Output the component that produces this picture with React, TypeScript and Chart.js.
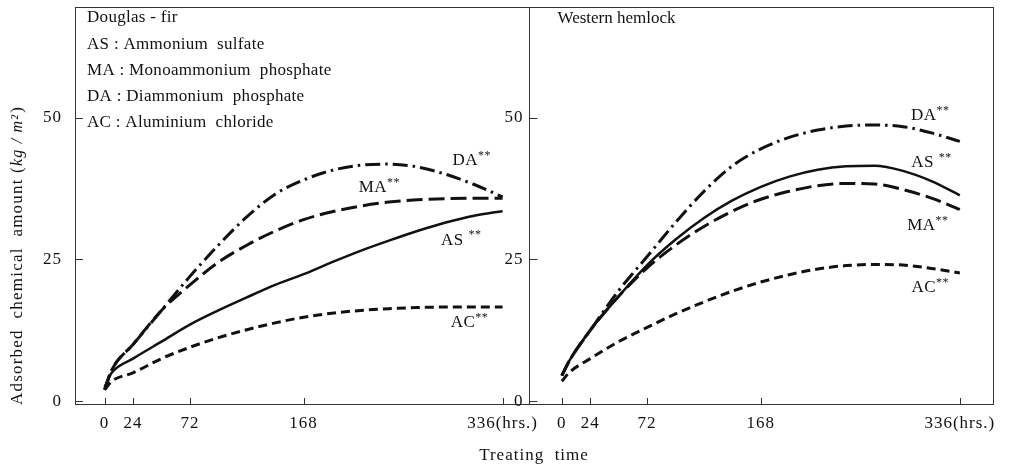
import React, { useEffect, useRef } from "react";
import { Chart, registerables } from "chart.js";

Chart.register(...registerables);

// ---------- data ----------
const HOURS = [0, 6, 24, 48, 72, 96, 120, 144, 168, 192, 216, 240, 264, 288, 312, 336];

// Douglas-fir (kg/m2)
const DF_AS = [2.5, 5, 7.5, 10.5, 13.5, 16, 18.3, 20.5, 22.4, 24.5, 26.5, 28.3, 30, 31.5, 32.7, 33.5];
const DF_MA = [2, 5.5, 10, 16, 20.5, 24.5, 27.5, 30, 32, 33.4, 34.4, 35.1, 35.5, 35.7, 35.8, 35.8];
const DF_DA = [2, 5.5, 10, 16, 22, 27.5, 32.5, 36.5, 39, 40.7, 41.6, 41.8, 41.3, 40, 38.2, 36];
const DF_AC = [2, 3.5, 5, 7.5, 9.5, 11.2, 12.6, 13.8, 14.8, 15.5, 16, 16.3, 16.5, 16.6, 16.6, 16.6];

// Western hemlock (kg/m2)
const WH_AS = [4.5, 7, 12.5, 18.5, 24, 28.5, 32.3, 35.4, 37.8, 39.6, 40.8, 41.4, 41.5, 40.6, 38.8, 36.3];
const WH_MA = [4.5, 7, 12.5, 18.5, 23.5, 27.5, 30.8, 33.5, 35.6, 37, 38, 38.4, 38.3, 37.3, 35.8, 33.8];
const WH_DA = [4.5, 7, 12.5, 19.5, 25.5, 31.5, 37, 41.5, 44.5, 46.5, 47.8, 48.5, 48.7, 48.4, 47.3, 45.8];
const WH_AC = [3.5, 5, 7.5, 10.5, 13, 15.4, 17.5, 19.4, 21, 22.3, 23.3, 23.9, 24.1, 24, 23.4, 22.6];

const SERIES_CODES = ["AS", "MA", "DA", "AC"];
const X_TICKS = [0, 24, 72, 168, 336];
const Y_TICKS = [0, 25, 50];
const PANEL_TITLES = ["Douglas - fir", "Western hemlock"];
const LEGEND_LINES = [
  "AS : Ammonium  sulfate",
  "MA : Monoammonium  phosphate",
  "DA : Diammonium  phosphate",
  "AC : Aluminium  chloride",
];
const X_TITLE = "Treating  time";
const Y_TITLE_MAIN = "Adsorbed  chemical  amount";
const Y_TITLE_UNIT = "kg / m²";
const LAST_TICK_LABEL = "336(hrs.)";

// curve label anchors [hours, value] (centre of label)
const DF_LABEL_AT = { AS: [301, 28.4], MA: [232, 37.7], DA: [310, 42.4], AC: [308, 13.8] };
const WH_LABEL_AT = { AS: [312, 42.1], MA: [309, 31], DA: [311, 50.3], AC: [311, 20] };

// ---------- layout constants ----------
const X_MIN = -25;
const X_MAX = 750;
const RIGHT_OFFSET = 386; // hours offset for the second panel
const DIVIDER = 358;
const Y_MIN = -0.5;
const Y_MAX = 69.5;

const FONT = "'Liberation Serif', 'DejaVu Serif', serif";

const DASHES: Record<string, number[]> = {
  AS: [],
  MA: [16, 6],
  DA: [15, 5, 2.5, 5],
  AC: [9, 5],
};

function pts(values: number[], offset: number) {
  return HOURS.map((h, i) => ({ x: h + offset, y: values[i] }));
}

export default function App() {
  const ref = useRef<HTMLCanvasElement | null>(null);

  useEffect(() => {
    const canvas = ref.current;
    if (!canvas) return;
    document.body.style.margin = "0";

    const dfVals: Record<string, number[]> = { AS: DF_AS, MA: DF_MA, DA: DF_DA, AC: DF_AC };
    const whVals: Record<string, number[]> = { AS: WH_AS, MA: WH_MA, DA: WH_DA, AC: WH_AC };

    const datasets: any[] = [];
    [
      { vals: dfVals, off: 0, name: "Douglas-fir" },
      { vals: whVals, off: RIGHT_OFFSET, name: "Western hemlock" },
    ].forEach((p) => {
      SERIES_CODES.forEach((code) => {
        datasets.push({
          label: p.name + " " + code,
          data: pts(p.vals[code], p.off),
          borderColor: "#111",
          borderWidth: code === "AS" ? 2.5 : 3,
          borderDash: DASHES[code],
          borderCapStyle: "butt",
          pointRadius: 0,
          fill: false,
          cubicInterpolationMode: "monotone",
        });
      });
    });

    const allTicks = [
      ...X_TICKS.map((v) => v),
      ...X_TICKS.map((v) => v + RIGHT_OFFSET),
    ];

    const decor = {
      id: "decor",
      beforeDraw(chart: any) {
        chart.ctx.letterSpacing = "1px";
      },
      afterDraw(chart: any) {
        const { ctx, chartArea } = chart;
        const xs = chart.scales.x;
        const ys = chart.scales.y;
        const { left, right, top, bottom } = chartArea;
        ctx.save();
        ctx.strokeStyle = "#333";
        ctx.lineWidth = 1;
        ctx.setLineDash([]);
        // frame
        ctx.strokeRect(Math.round(left) + 0.5, Math.round(top) + 0.5, Math.round(right - left), Math.round(bottom - top));
        const dx = Math.round(xs.getPixelForValue(DIVIDER)) + 0.5;
        ctx.beginPath();
        ctx.moveTo(dx, top);
        ctx.lineTo(dx, bottom);
        ctx.stroke();
        // x tick marks (inward)
        ctx.beginPath();
        allTicks.forEach((v) => {
          const px = Math.round(xs.getPixelForValue(v)) + 0.5;
          ctx.moveTo(px, bottom);
          ctx.lineTo(px, bottom - 6);
        });
        // y tick marks on both panels (inward)
        Y_TICKS.forEach((v) => {
          const py = Math.round(ys.getPixelForValue(v)) + 0.5;
          ctx.moveTo(left, py);
          ctx.lineTo(left + 8, py);
          ctx.moveTo(dx, py);
          ctx.lineTo(dx + 8, py);
        });
        ctx.stroke();

        ctx.fillStyle = "#111";
        // right panel y tick labels
        ctx.letterSpacing = "1px";
        ctx.font = `17px ${FONT}`;
        ctx.textAlign = "right";
        ctx.textBaseline = "middle";
        Y_TICKS.forEach((v) => {
          ctx.fillText(String(v), dx - 6, ys.getPixelForValue(v));
        });

        // panel titles & legend text
        ctx.textAlign = "left";
        ctx.letterSpacing = "0.3px";
        ctx.font = `17px ${FONT}`;
        ctx.fillText(PANEL_TITLES[0], left + 12, top + 11);
        LEGEND_LINES.forEach((t, i) => {
          ctx.fillText(t, left + 12, top + 38 + i * 26);
        });
        ctx.letterSpacing = "0px";
        ctx.fillText(PANEL_TITLES[1], dx + 28, top + 12);

        // y-axis title (rotated), with italic unit
        ctx.save();
        const ty0 = bottom + 1;
        ctx.translate(18, ty0);
        ctx.rotate(-Math.PI / 2);
        ctx.textAlign = "left";
        ctx.textBaseline = "middle";
        ctx.letterSpacing = "1.2px";
        ctx.font = `17px ${FONT}`;
        const part1 = Y_TITLE_MAIN + " (";
        ctx.fillText(part1, 0, 0);
        let w = ctx.measureText(part1).width;
        ctx.font = `italic 16px ${FONT}`;
        ctx.fillText(Y_TITLE_UNIT, w, 0);
        w += ctx.measureText(Y_TITLE_UNIT).width;
        ctx.font = `17px ${FONT}`;
        ctx.fillText(")", w + 1, 0);
        ctx.restore();

        // curve labels with superscript stars
        const drawLabel = (code: string, at: number[], off: number) => {
          const main = code === "AS" ? "AS " : code;
          ctx.letterSpacing = "0.5px";
          ctx.font = `17px ${FONT}`;
          const w1 = ctx.measureText(main).width;
          ctx.font = `12px ${FONT}`;
          const w2 = ctx.measureText("**").width;
          const cx = xs.getPixelForValue(at[0] + off);
          const cy = ys.getPixelForValue(at[1]);
          const x0 = cx - (w1 + w2) / 2;
          ctx.font = `17px ${FONT}`;
          ctx.textAlign = "left";
          ctx.textBaseline = "middle";
          ctx.fillText(main, x0, cy);
          ctx.font = `12px ${FONT}`;
          ctx.fillText("**", x0 + w1, cy - 5);
        };
        SERIES_CODES.forEach((c) => drawLabel(c, (DF_LABEL_AT as any)[c], 0));
        SERIES_CODES.forEach((c) => drawLabel(c, (WH_LABEL_AT as any)[c], RIGHT_OFFSET));
        ctx.restore();
      },
    };

    const chart = new Chart(canvas, {
      type: "line",
      data: { datasets },
      options: {
        responsive: false,
        animation: false,
        devicePixelRatio: 1,
        layout: { padding: { top: 7, right: 20, bottom: 0, left: 0 } },
        plugins: { legend: { display: false }, tooltip: { enabled: false } },
        scales: {
          x: {
            type: "linear",
            min: X_MIN,
            max: X_MAX,
            grid: { display: false, drawTicks: false },
            border: { display: false },
            afterBuildTicks: (s: any) => {
              s.ticks = allTicks.map((v) => ({ value: v }));
            },
            afterFit: (s: any) => {
              s.height = 70;
              s.paddingLeft = 0;
              s.paddingRight = 0;
            },
            ticks: {
              autoSkip: false,
              maxRotation: 0,
              padding: 9,
              color: "#111",
              font: { family: FONT, size: 17 },
              callback: (v: any) => {
                const n = Number(v);
                const h = n >= RIGHT_OFFSET - 1 ? n - RIGHT_OFFSET : n;
                return h === 336 ? LAST_TICK_LABEL : String(h);
              },
            },
            title: {
              display: true,
              text: X_TITLE,
              color: "#111",
              font: { family: FONT, size: 17 },
              padding: { top: 0, bottom: 8 },
            },
          },
          y: {
            type: "linear",
            min: Y_MIN,
            max: Y_MAX,
            grid: { display: false, drawTicks: false },
            border: { display: false },
            afterBuildTicks: (s: any) => {
              s.ticks = Y_TICKS.map((v) => ({ value: v }));
            },
            afterFit: (s: any) => {
              s.width = 75;
              s.paddingTop = 0;
              s.paddingBottom = 0;
            },
            ticks: {
              padding: 13,
              color: "#111",
              font: { family: FONT, size: 17 },
            },
          },
        },
      },
      plugins: [decor],
    } as any);

    return () => chart.destroy();
  }, []);

  return (
    <div style={{ position: "absolute", left: 0, top: 0, width: 1013, height: 474, background: "#fff" }}>
      <canvas ref={ref} width={1013} height={474} style={{ width: 1013, height: 474, display: "block" }} />
    </div>
  );
}
